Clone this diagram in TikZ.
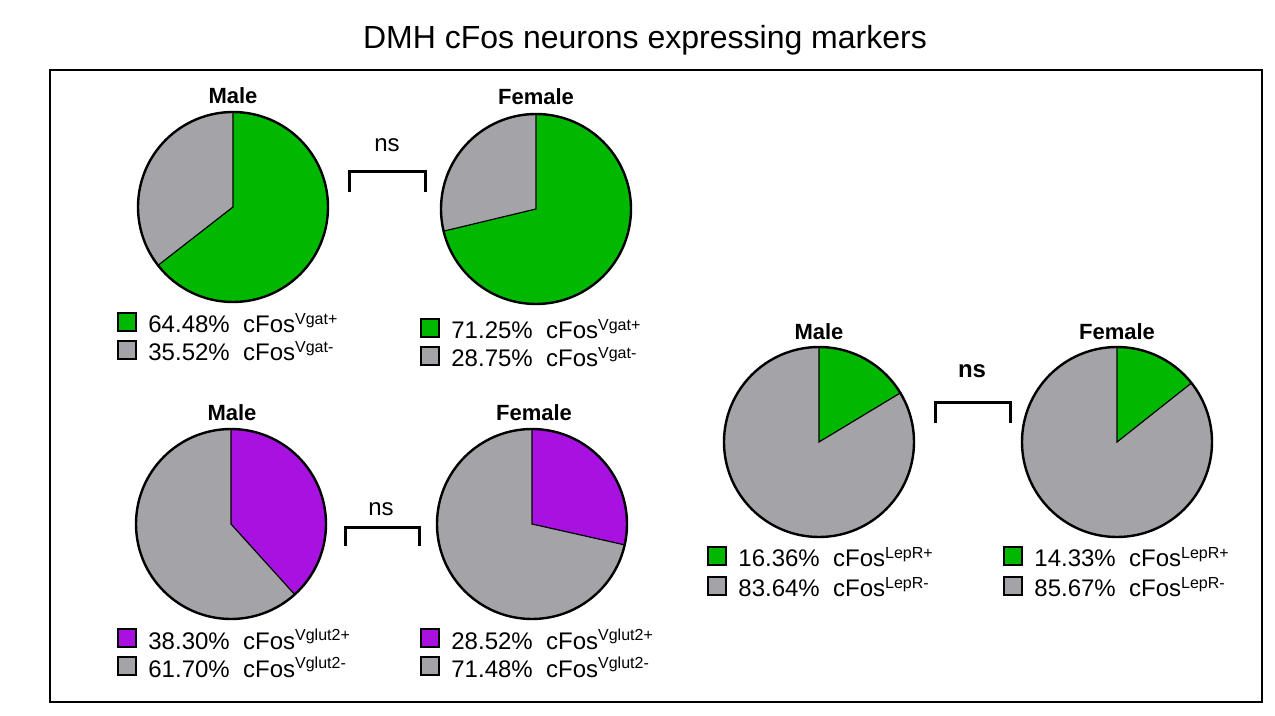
\documentclass[tikz,border=0pt]{standalone}
\usepackage{fontspec}
\setmainfont{Liberation Sans}
\definecolor{pg}{HTML}{00B800}
\definecolor{pgr}{HTML}{A4A4A8}
\definecolor{pp}{HTML}{A812E0}
\newcommand\mypie[4]{% x y color angle
  \fill[pgr] (#1,#2) circle[radius=95];
  \fill[#3] (#1,#2) -- ++(0,-95) arc[start angle=-90,end angle=-90+#4,radius=95] -- cycle;
  \draw[line width=1.2pt] (#1,#2) circle[radius=95];
  \draw[line width=0.6pt] (#1,#2) ++(0,-95) -- (#1,#2) -- ++(-90+#4:95);}
\newcommand\legend[6]{% name x y color val sup
  \draw[fill=#4,line width=1pt] (#2,#3) rectangle ++(18,18);
  \node[lab,anchor=west] (#1) at (#2+30,#3+10) {#5\ \ cFos\textsuperscript{#6}};}
\begin{document}
\begin{tikzpicture}[x=0.5pt,y=-0.5pt,
  lab/.style={font=\fontsize{12}{14}\selectfont,inner sep=0pt},
  ttl/.style={font=\bfseries\fontsize{11}{13}\selectfont,inner sep=0pt},
  brk/.style={line width=1.5pt}]
\useasboundingbox (0,0) rectangle (1275,716);
\fill[white] (0,0) rectangle (1275,716);
\node[font=\fontsize{16}{19}\selectfont] (title) at (645,40) {DMH cFos neurons expressing markers};
\draw[line width=1pt] (50,70) rectangle (1262,702);
\mypie{233}{207}{pg}{232.1}
\mypie{536}{209}{pg}{256.5}
\mypie{231}{524}{pp}{137.9}
\mypie{532}{524}{pp}{102.7}
\mypie{819}{442}{pg}{58.9}
\mypie{1117}{442}{pg}{51.6}
\node[ttl] (t1) at (233,96) {Male};
\node[ttl] (t2) at (536,97) {Female};
\node[ttl] (t3) at (232,413) {Male};
\node[ttl] (t4) at (534,413) {Female};
\node[ttl] (t5) at (819,332) {Male};
\node[ttl] (t6) at (1117,332) {Female};
\node[lab] (ns1) at (387,145) {ns};
\draw[brk] (349,192) -- (349,172) -- (425,172) -- (425,192);
\node[lab] (ns2) at (381,509) {ns};
\draw[brk] (345,546) -- (345,528) -- (419,528) -- (419,546);
\node[ttl,font=\bfseries\fontsize{12}{14}\selectfont] (ns3) at (972,371) {ns};
\draw[brk] (935,423) -- (935,403) -- (1010,403) -- (1010,423);
\legend{l1}{118}{313}{pg}{64.48\%}{Vgat+}
\legend{l2}{118}{341}{pgr}{35.52\%}{Vgat-}
\legend{l3}{421}{319}{pg}{71.25\%}{Vgat+}
\legend{l4}{421}{347}{pgr}{28.75\%}{Vgat-}
\legend{l5}{118}{629}{pp}{38.30\%}{Vglut2+}
\legend{l6}{118}{657}{pgr}{61.70\%}{Vglut2-}
\legend{l7}{421}{629}{pp}{28.52\%}{Vglut2+}
\legend{l8}{421}{657}{pgr}{71.48\%}{Vglut2-}
\legend{l9}{708}{547}{pg}{16.36\%}{LepR+}
\legend{l10}{708}{577}{pgr}{83.64\%}{LepR-}
\legend{l11}{1004}{547}{pg}{14.33\%}{LepR+}
\legend{l12}{1004}{577}{pgr}{85.67\%}{LepR-}
\end{tikzpicture}
\end{document}
